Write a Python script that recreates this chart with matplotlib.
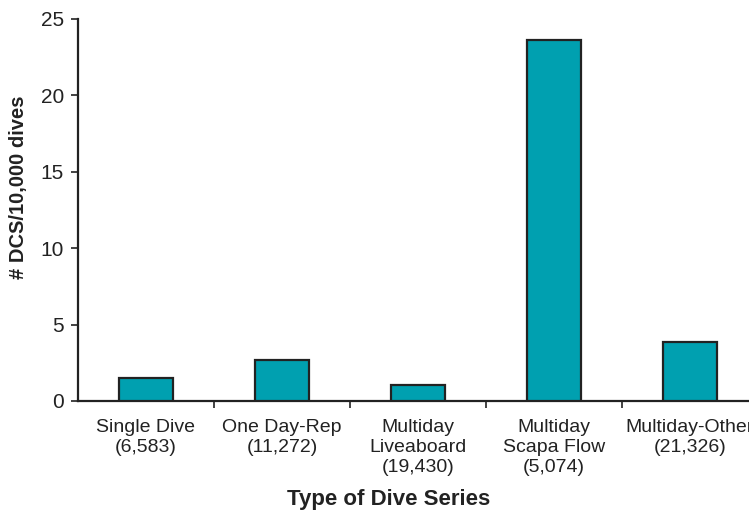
import matplotlib
matplotlib.use("Agg")
import matplotlib.pyplot as plt
import numpy as np

categories = ["Single Dive\n(6,583)", "One Day-Rep\n(11,272)", "Multiday\nLiveaboard\n(19,430)",
              "Multiday\nScapa Flow\n(5,074)", "Multiday-Other\n(21,326)"]
values = [1.5, 2.7, 1.05, 23.6, 3.85]
yticks = [0, 5, 10, 15, 20, 25]

plt.rcParams['font.family'] = ['Liberation Sans', 'DejaVu Sans']

W, H = 749, 513
fig = plt.figure(figsize=(W/100, H/100), dpi=100)
ax = fig.add_axes([78/W, (H-401)/H, 680/W, 382/H])

x = np.arange(len(categories))
ax.bar(x, values, width=0.40, color='#00A0B0', edgecolor='#222222', linewidth=1.6, zorder=3)

ax.set_xlim(-0.5, len(categories)-0.5)
ax.set_ylim(0, 25)
ax.set_yticks(yticks)
ax.set_yticklabels([str(t) for t in yticks], fontsize=15, color='#222222')

ax.set_xticks(x)
ax.set_xticklabels(categories, fontsize=14, color='#222222', linespacing=1.23)
ax.tick_params(axis='x', which='major', length=0, pad=13)
ax.set_xticks(np.arange(len(categories)-1)+0.5, minor=True)
ax.tick_params(axis='x', which='minor', length=5, width=1.2, color='#222222', direction='out')
ax.tick_params(axis='y', length=5, width=1.2, color='#222222', direction='out', pad=5)

for s in ['top', 'right']:
    ax.spines[s].set_visible(False)
for s in ['left', 'bottom']:
    ax.spines[s].set_color('#222222')
    ax.spines[s].set_linewidth(1.6)

fig.text(19/W, 1-187/H, "# DCS/10,000 dives", fontsize=14.5, fontweight='bold', color='#222222',
         ha='center', va='center', rotation=90)
fig.text(389/W, 1-500/H, "Type of Dive Series", fontsize=16, fontweight='bold', color='#222222',
         ha='center', va='center')

fig.savefig("out.png", dpi=100)
